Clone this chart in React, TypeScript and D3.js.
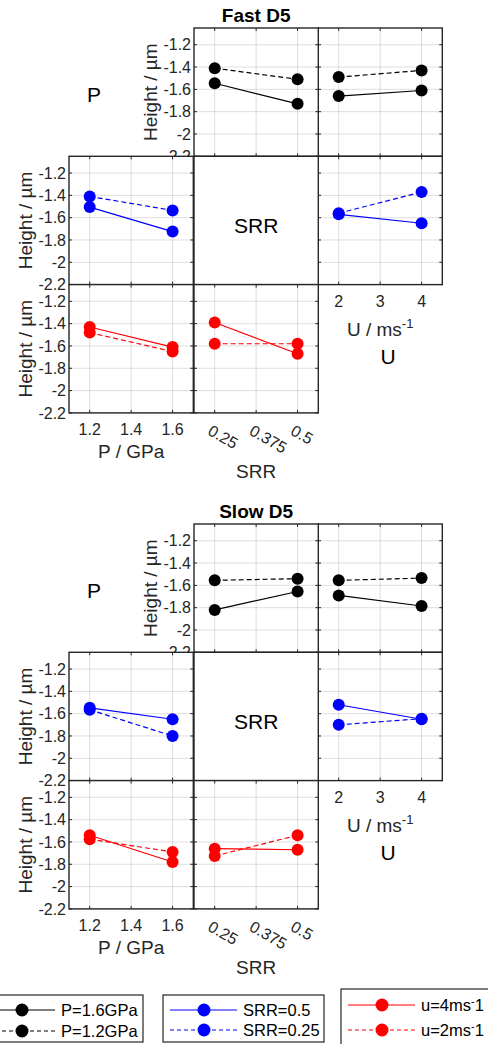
import React from 'react';
import * as d3 from 'd3';

// factor levels and ticks
const pLevels = [1.2, 1.6];
const srrLevels = [0.25, 0.5];
const uLevels = [2, 4];

const pTicks = [1.2, 1.4, 1.6];
const srrTicks = [0.25, 0.375, 0.5];
const uTicks = [2, 3, 4];
const heightTicks = [-2.2, -2, -1.8, -1.6, -1.4, -1.2];

// Fast D5 (height / um)
const fastP16VsSrr = [-1.545, -1.73];
const fastP12VsSrr = [-1.41, -1.51];
const fastP16VsU = [-1.66, -1.61];
const fastP12VsU = [-1.49, -1.43];
const fastSrr05VsP = [-1.505, -1.725];
const fastSrr025VsP = [-1.41, -1.535];
const fastSrr05VsU = [-1.57, -1.65];
const fastSrr025VsU = [-1.56, -1.37];
const fastU4VsP = [-1.43, -1.61];
const fastU2VsP = [-1.48, -1.65];
const fastU4VsSrr = [-1.39, -1.67];
const fastU2VsSrr = [-1.58, -1.58];

// Slow D5
const slowP16VsSrr = [-1.82, -1.655];
const slowP12VsSrr = [-1.555, -1.54];
const slowP16VsU = [-1.69, -1.785];
const slowP12VsU = [-1.555, -1.535];
const slowSrr05VsP = [-1.548, -1.65];
const slowSrr025VsP = [-1.565, -1.8];
const slowSrr05VsU = [-1.52, -1.65];
const slowSrr025VsU = [-1.7, -1.645];
const slowU4VsP = [-1.54, -1.78];
const slowU2VsP = [-1.575, -1.69];
const slowU4VsSrr = [-1.66, -1.67];
const slowU2VsSrr = [-1.725, -1.54];

const FONT = '"Liberation Sans", Arial, sans-serif';
const BOX = '#262626';
const BLACK = '#000000';
const BLUE = '#0000ff';
const RED = '#ff0000';

const colLeft = [69, 194, 318];
const colW = 124.3;
const rowH = 128.3;
const blockTops = [28, 524];

const axes: any = {
  P: { levels: pLevels, ticks: pTicks, domain: [1.1, 1.7] },
  SRR: { levels: srrLevels, ticks: srrTicks, domain: [0.1875, 0.5625] },
  U: { levels: uLevels, ticks: uTicks, domain: [1.5, 4.5] },
};

type Series = { values: number[]; dashed: boolean };
type Spec = {
  row: number;
  col: number;
  axis: string;
  color: string;
  series: Series[];
  yLabels?: boolean;
  xLabels?: boolean;
};

function buildSpecs(d: any): Spec[] {
  return [
    { row: 0, col: 2, axis: 'U', color: BLACK, series: [{ values: d.p16u, dashed: false }, { values: d.p12u, dashed: true }] },
    { row: 0, col: 1, axis: 'SRR', color: BLACK, yLabels: true, series: [{ values: d.p16s, dashed: false }, { values: d.p12s, dashed: true }] },
    { row: 1, col: 0, axis: 'P', color: BLUE, yLabels: true, series: [{ values: d.s05p, dashed: false }, { values: d.s025p, dashed: true }] },
    { row: 1, col: 2, axis: 'U', color: BLUE, xLabels: true, series: [{ values: d.s05u, dashed: false }, { values: d.s025u, dashed: true }] },
    { row: 2, col: 1, axis: 'SRR', color: RED, xLabels: true, series: [{ values: d.u4s, dashed: false }, { values: d.u2s, dashed: true }] },
    { row: 2, col: 0, axis: 'P', color: RED, yLabels: true, xLabels: true, series: [{ values: d.u4p, dashed: false }, { values: d.u2p, dashed: true }] },
  ];
}

const fastData = {
  p16s: fastP16VsSrr, p12s: fastP12VsSrr, p16u: fastP16VsU, p12u: fastP12VsU,
  s05p: fastSrr05VsP, s025p: fastSrr025VsP, s05u: fastSrr05VsU, s025u: fastSrr025VsU,
  u4p: fastU4VsP, u2p: fastU2VsP, u4s: fastU4VsSrr, u2s: fastU2VsSrr,
};
const slowData = {
  p16s: slowP16VsSrr, p12s: slowP12VsSrr, p16u: slowP16VsU, p12u: slowP12VsU,
  s05p: slowSrr05VsP, s025p: slowSrr025VsP, s05u: slowSrr05VsU, s025u: slowSrr025VsU,
  u4p: slowU4VsP, u2p: slowU2VsP, u4s: slowU4VsSrr, u2s: slowU2VsSrr,
};

function Panel({ spec, top }: { spec: Spec; top: number }) {
  const x0 = colLeft[spec.col];
  const y0 = top + spec.row * rowH;
  const ax = axes[spec.axis];
  const xs = d3.scaleLinear().domain(ax.domain).range([x0, x0 + colW]);
  const ys = d3.scaleLinear().domain([-2.2, -1.05]).range([y0 + rowH, y0]);
  const bottom = y0 + rowH;
  const line = d3.line<number>().x((_, i) => xs(ax.levels[i])).y((v) => ys(v));

  return (
    <g>
      <rect x={x0} y={y0} width={colW} height={rowH} fill="#fff" />
      {ax.ticks.map((t: number) => (
        <line key={'gx' + t} x1={xs(t)} x2={xs(t)} y1={y0} y2={bottom} stroke={BOX} strokeOpacity={0.15} />
      ))}
      {heightTicks.map((t) => (
        <line key={'gy' + t} x1={x0} x2={x0 + colW} y1={ys(t)} y2={ys(t)} stroke={BOX} strokeOpacity={0.15} />
      ))}
      {ax.ticks.map((t: number) => (
        <g key={'tx' + t}>
          <line x1={xs(t)} x2={xs(t)} y1={bottom} y2={bottom - 3} stroke={BOX} />
          <line x1={xs(t)} x2={xs(t)} y1={y0} y2={y0 + 3} stroke={BOX} />
        </g>
      ))}
      {heightTicks.map((t) => (
        <g key={'ty' + t}>
          <line x1={x0} x2={x0 + 3} y1={ys(t)} y2={ys(t)} stroke={BOX} />
          <line x1={x0 + colW} x2={x0 + colW - 3} y1={ys(t)} y2={ys(t)} stroke={BOX} />
        </g>
      ))}
      <rect x={x0} y={y0} width={colW} height={rowH} fill="none" stroke={BOX} strokeWidth={1.4} />
      {spec.series.map((s, si) => (
        <g key={'s' + si}>
          <path d={line(s.values) || ''} fill="none" stroke={spec.color} strokeWidth={1.2}
            strokeDasharray={s.dashed ? '5,3' : undefined} />
          {s.values.map((v, i) => (
            <circle key={i} cx={xs(ax.levels[i])} cy={ys(v)} r={6} fill={spec.color} />
          ))}
        </g>
      ))}
      {spec.yLabels && (
        <g fontFamily={FONT} fontSize={16} fill="#262626">
          {heightTicks.map((t) => (
            <text key={'yl' + t} x={x0 - 3} y={ys(t)} dy="0.36em" textAnchor="end">{String(t)}</text>
          ))}
          <text transform={`translate(${x0 - 37},${y0 + rowH / 2}) rotate(-90)`} textAnchor="middle" fontSize={19}>
            Height / µm
          </text>
        </g>
      )}
      {spec.xLabels && spec.axis === 'P' && (
        <g fontFamily={FONT} fontSize={16} fill="#262626">
          {ax.ticks.map((t: number) => (
            <text key={'xl' + t} x={xs(t)} y={bottom + 22} textAnchor="middle">{String(t)}</text>
          ))}
          <text x={x0 + colW / 2} y={bottom + 45} textAnchor="middle" fontSize={19}>P / GPa</text>
        </g>
      )}
      {spec.xLabels && spec.axis === 'U' && (
        <g fontFamily={FONT} fontSize={16} fill="#262626">
          {ax.ticks.map((t: number) => (
            <text key={'xl' + t} x={xs(t)} y={bottom + 22} textAnchor="middle">{String(t)}</text>
          ))}
          <text x={x0 + colW / 2} y={bottom + 51} textAnchor="middle" fontSize={19}>
            U / ms<tspan dy={-8} fontSize={13}>-1</tspan>
          </text>
        </g>
      )}
      {spec.xLabels && spec.axis === 'SRR' && (
        <g fontFamily={FONT} fontSize={16} fill="#262626">
          {ax.ticks.map((t: number) => (
            <text key={'xl' + t} transform={`translate(${xs(t) - 8},${bottom + 21}) rotate(30)`} textAnchor="start">
              {String(t)}
            </text>
          ))}
          <text x={x0 + colW / 2} y={bottom + 65} textAnchor="middle" fontSize={19}>SRR</text>
        </g>
      )}
    </g>
  );
}

function Block({ top, title, data }: { top: number; title: string; data: any }) {
  const specs = buildSpecs(data);
  const centerX = colLeft[1] + colW / 2;
  return (
    <g>
      <text x={centerX} y={top - 6} textAnchor="middle" fontFamily={FONT} fontWeight="bold" fontSize={19}>{title}</text>
      {specs.filter((s) => s.row === 0).map((s, i) => <Panel key={'a' + i} spec={s} top={top} />)}
      <g>
        {specs.filter((s) => s.row === 1).map((s, i) => <Panel key={'b' + i} spec={s} top={top} />)}
        <rect x={colLeft[1]} y={top + rowH} width={colW} height={rowH} fill="#fff" stroke={BOX} strokeWidth={1.4} />
      </g>
      {specs.filter((s) => s.row === 2).map((s, i) => <Panel key={'c' + i} spec={s} top={top} />)}
      <g fontFamily={FONT} fontSize={21} textAnchor="middle" fill="#000">
        <text x={colLeft[0] + 25} y={top + 74}>P</text>
        <text x={centerX} y={top + rowH + 77}>SRR</text>
        <text x={colLeft[2] + 70} y={top + 2 * rowH + 79}>U</text>
      </g>
    </g>
  );
}

const legendBoxes = [
  { x: -19, y: 995, w: 162, h: 47, rows: [1010, 1031], color: BLACK, labels: ['P=1.6GPa', 'P=1.2GPa'] },
  { x: 163, y: 995, w: 161, h: 47, rows: [1010, 1030], color: BLUE, labels: ['SRR=0.5', 'SRR=0.25'] },
  { x: 341, y: 989, w: 160, h: 60, rows: [1005, 1030], color: RED, labels: ['u=4ms', 'u=2ms'] },
];

function Legend() {
  return (
    <g fontFamily={FONT} fontSize={16.5} fill="#000">
      {legendBoxes.map((b, bi) => (
        <g key={bi}>
          <rect x={b.x} y={b.y} width={b.w} height={b.h} fill="#fff" stroke={BOX} strokeWidth={1.2} />
          {b.rows.map((ry, ri) => (
            <g key={ri}>
              <line x1={b.x + 7} x2={b.x + 74} y1={ry} y2={ry} stroke={b.color} strokeWidth={1.2}
                strokeDasharray={ri === 1 ? '4,3' : undefined} />
              <circle cx={b.x + 41} cy={ry} r={6.5} fill={b.color} />
              <text x={b.x + 80} y={ry} dy="0.36em">
                {b.labels[ri]}
                {bi === 2 && (
                  <>
                    <tspan dy={-6} fontSize={11}>-</tspan>
                    <tspan dy={6}>1</tspan>
                  </>
                )}
              </text>
            </g>
          ))}
        </g>
      ))}
    </g>
  );
}

export default function App() {
  return (
    <svg width={488} height={1044} style={{ position: 'absolute', left: 0, top: 0, background: '#fff' }}>
      <Block top={blockTops[0]} title="Fast D5" data={fastData} />
      <Block top={blockTops[1]} title="Slow D5" data={slowData} />
      <Legend />
    </svg>
  );
}
